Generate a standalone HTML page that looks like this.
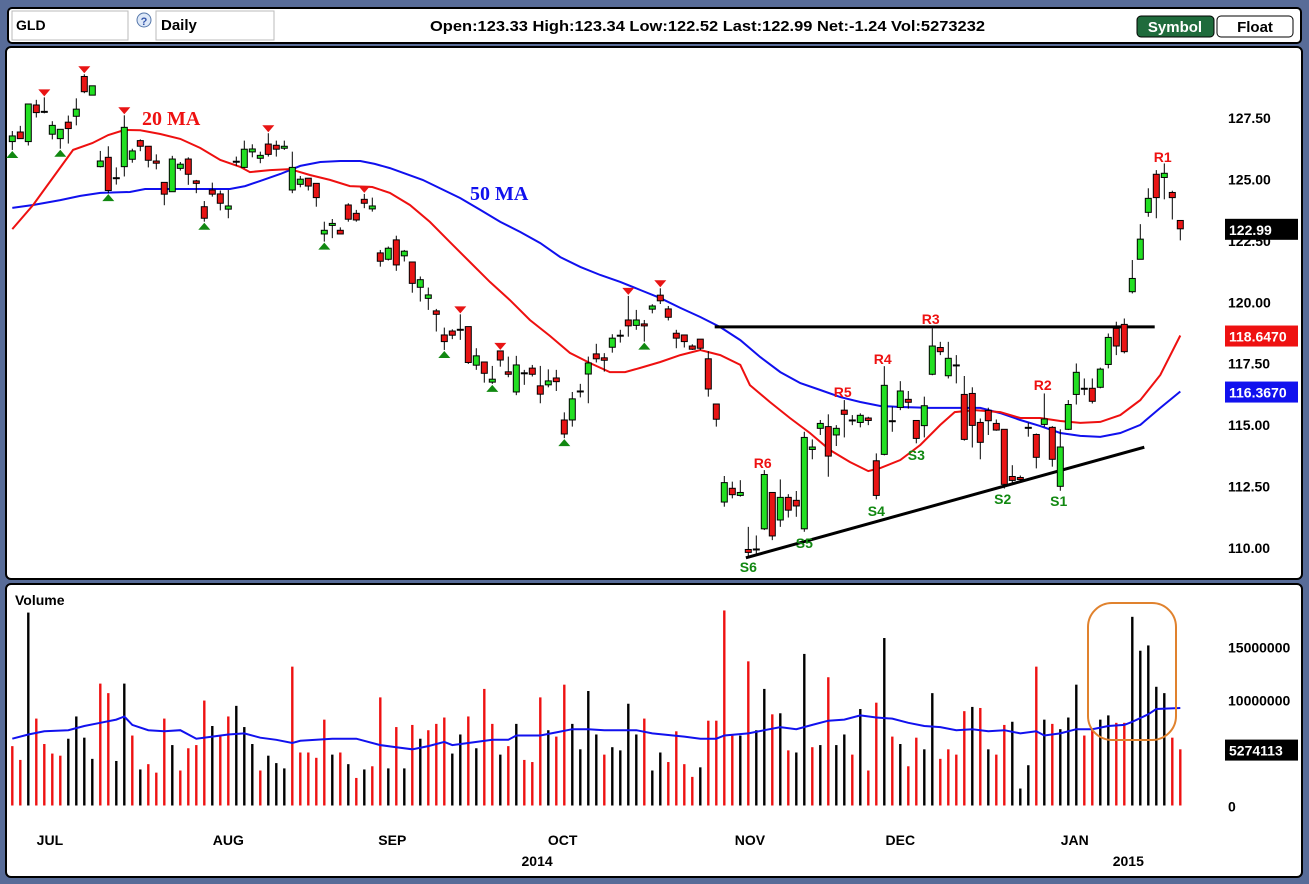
<!DOCTYPE html>
<html><head><meta charset="utf-8"><title>GLD Daily</title>
<style>
html,body{margin:0;padding:0;background:#586c98;}
svg{display:block;font-family:"Liberation Sans",sans-serif;}
</style></head>
<body>
<svg id="chart" width="1309" height="884" viewBox="0 0 1309 884" xmlns="http://www.w3.org/2000/svg">
<rect x="0" y="0" width="1309" height="884" fill="#586c98"/>
<g>
<rect x="8" y="8" width="1293" height="35" rx="4" fill="#fff" stroke="#000" stroke-width="2"/>
<rect x="12" y="11" width="116" height="29" fill="#fff" stroke="#bbb"/>
<text x="16" y="30" font-size="14" font-weight="bold">GLD</text>
<circle cx="144" cy="20" r="7" fill="#dde8f8" stroke="#5577aa"/>
<text x="144" y="25" font-size="11" font-weight="bold" fill="#3355aa" text-anchor="middle">?</text>
<rect x="156" y="11" width="118" height="29" fill="#fff" stroke="#bbb"/>
<text x="161" y="30" font-size="15" font-weight="bold">Daily</text>
<text x="430" y="31" font-size="15" font-weight="bold" textLength="555" lengthAdjust="spacingAndGlyphs">Open:123.33  High:123.34  Low:122.52  Last:122.99  Net:-1.24  Vol:5273232</text>
<rect x="1137" y="16" width="77" height="21" rx="4" fill="#1f6b3c" stroke="#000"/>
<text x="1175" y="32" font-size="15" font-weight="bold" fill="#fff" text-anchor="middle">Symbol</text>
<rect x="1217" y="16" width="76" height="21" rx="4" fill="#fff" stroke="#000"/>
<text x="1255" y="32" font-size="15" font-weight="bold" text-anchor="middle">Float</text>
</g>
<rect x="6" y="47" width="1296" height="532" rx="5" fill="#fff" stroke="#000" stroke-width="2"/>
<rect x="6" y="584" width="1296" height="293" rx="5" fill="#fff" stroke="#000" stroke-width="2"/>
<g id="price-layer"></g>
<g id="volume-layer"></g>
</svg>
<script>
const opens=[126.54,126.93,126.54,128.03,127.75,126.84,126.66,127.33,127.57,129.19,128.43,125.52,125.90,125.05,125.52,125.82,126.58,126.35,125.75,124.88,124.50,125.45,125.83,124.94,123.89,124.57,124.41,123.79,125.72,125.49,126.12,125.86,126.44,126.39,126.27,124.57,124.80,125.05,124.84,122.78,123.15,122.93,123.96,123.62,124.19,123.80,122.01,121.75,122.54,121.89,121.64,120.61,120.16,119.65,118.67,118.83,118.88,119.01,117.44,117.57,116.75,118.02,117.17,116.35,117.11,117.32,116.60,116.64,116.92,115.21,115.21,116.37,117.08,117.90,117.74,118.17,118.64,119.28,119.06,119.12,119.72,120.29,119.73,118.74,118.67,118.22,118.50,117.70,115.86,111.87,112.43,112.14,109.94,109.94,110.78,112.26,111.14,112.06,111.94,110.78,114.01,114.87,114.94,114.60,115.61,115.19,115.11,115.29,113.55,113.81,115.16,115.72,116.05,115.19,114.98,117.07,118.16,117.01,117.43,116.25,116.29,115.11,115.60,115.07,114.83,112.91,112.87,114.89,114.62,115.03,114.91,112.51,114.83,116.25,116.48,116.50,116.54,117.47,118.94,119.10,120.43,121.75,123.66,125.21,125.08,124.47,123.33];
const highs=[126.97,127.18,128.07,128.24,128.34,127.37,127.04,127.60,128.30,129.28,128.81,126.16,126.35,125.49,127.61,126.25,126.63,126.35,126.02,124.88,125.96,125.71,125.90,124.98,124.12,124.87,124.55,124.57,125.93,126.58,126.43,126.13,126.88,126.58,126.58,126.13,125.14,125.05,124.84,123.28,123.39,123.05,124.03,123.76,124.41,124.26,122.13,122.27,122.71,122.13,121.64,121.05,120.60,119.73,118.97,118.90,119.51,119.01,118.13,117.57,117.41,118.02,117.79,117.82,117.25,117.45,117.41,117.27,117.25,115.52,116.35,116.68,117.79,118.31,117.93,118.70,118.88,120.26,119.69,119.28,119.92,120.57,119.85,118.88,118.67,118.29,118.50,118.01,115.86,112.93,112.70,112.76,110.86,110.51,113.17,112.26,112.79,112.19,112.32,114.73,114.42,115.21,115.44,115.00,116.02,115.41,115.48,115.34,113.85,117.40,115.75,116.79,116.39,115.19,116.16,118.94,118.39,118.39,117.85,117.00,116.54,115.27,115.71,115.23,114.83,113.37,112.95,115.10,114.66,116.29,114.96,114.83,116.02,117.51,116.90,116.90,117.34,118.73,119.21,119.34,121.72,123.18,124.64,125.38,125.65,124.54,123.34];
const lows=[126.20,126.66,126.38,127.52,127.69,126.63,126.25,126.46,127.20,128.51,128.43,125.49,124.44,124.79,125.12,125.68,126.15,125.49,125.41,123.95,124.50,125.36,124.78,124.44,123.28,124.30,123.74,123.42,125.55,125.45,125.90,125.66,125.93,125.93,126.20,124.44,124.68,124.55,123.89,122.47,122.61,122.78,123.28,123.28,123.83,123.69,121.45,121.70,121.28,121.66,120.39,120.03,119.69,118.81,118.06,118.50,118.47,117.49,117.25,116.73,116.68,117.38,116.95,116.22,116.64,116.98,115.89,116.54,116.39,114.47,114.94,116.13,115.89,117.55,117.18,117.95,118.36,118.60,118.88,118.40,119.55,119.93,119.26,118.13,118.16,118.06,118.06,116.16,114.94,111.68,112.02,112.09,109.64,109.71,110.73,110.32,110.86,111.24,111.27,110.66,113.61,114.60,112.90,114.15,114.50,115.00,114.91,115.00,111.98,113.77,114.73,115.61,115.67,114.26,114.50,117.03,117.85,116.90,116.70,114.37,114.09,113.61,114.60,114.77,112.42,112.66,112.70,114.53,113.24,114.93,113.31,112.33,114.80,115.84,116.22,115.88,116.50,117.31,117.85,117.92,120.36,121.75,123.48,123.42,124.19,123.37,122.52];
const closes=[126.77,126.66,128.07,127.72,127.75,127.20,127.04,127.07,127.86,128.57,128.81,125.75,124.55,125.05,127.12,126.16,126.35,125.78,125.66,124.40,125.83,125.62,125.21,124.84,123.42,124.40,124.03,123.92,125.72,126.23,126.24,125.98,126.02,126.23,126.35,125.49,125.01,124.73,124.26,122.93,123.21,122.78,123.38,123.35,124.03,123.92,121.67,122.20,121.52,122.08,120.77,120.92,120.30,119.51,118.40,118.66,118.88,117.55,117.82,117.11,116.87,117.65,117.07,117.45,117.11,117.07,116.26,116.80,116.77,114.64,116.07,116.37,117.53,117.70,117.64,118.54,118.64,119.04,119.28,119.04,119.85,120.06,119.39,118.54,118.40,118.09,118.13,116.47,115.24,112.66,112.17,112.26,109.82,109.94,112.99,110.49,112.06,111.54,111.71,114.50,114.11,115.07,113.74,114.87,115.44,115.19,115.40,115.19,112.14,116.62,115.16,116.39,115.93,114.46,115.79,118.22,117.99,117.72,117.43,114.42,114.99,114.30,115.18,114.80,112.59,112.75,112.79,114.89,113.69,115.25,113.61,114.11,115.84,117.15,116.48,115.97,117.28,118.57,118.22,117.99,120.97,122.57,124.23,124.26,125.25,124.26,122.99];
const ma20Day=[0,2.6,5.5,7.6,10,12,14,16,18.5,21,23.5,26,28.5,29.7,32.2,34.7,37.2,39.7,42.2,45,47.2,49.7,52.2,54.7,57.2,59.7,62.2,64.7,67.2,69.7,72.2,74.7,76.6,78.5,81,83.5,86,88.5,91,92.2,94.7,97.2,99.7,102.2,104.7,107,108.5,111,113.5,116,117.8,120.3,123.5,126,128.5,131,133.5,136,138.5,141,143.5,146];
const ma20Val=[122.98,123.96,125.26,126.20,126.48,126.81,127.01,127.0,126.85,126.65,126.28,125.79,125.51,125.30,125.38,125.42,125.18,124.98,124.73,124.69,124.45,123.96,123.27,122.45,121.64,120.83,120.09,119.28,118.63,117.94,117.53,117.16,117.16,117.33,117.57,117.85,118.06,117.85,117.45,116.63,115.94,115.29,114.68,113.99,113.50,113.13,113.25,113.58,114.19,115.01,115.53,115.61,115.53,115.29,115.29,115.17,115.09,115.13,115.41,116.02,117.04,118.647];
const ma50Day=[0,2.6,6,8.5,11,14.7,16.6,27.2,29.1,31,33.5,36,38.5,41,43.5,45.3,47.2,51.3,56,58.5,61,63.5,66,68.5,71,73.5,76,78.5,81,83.5,86,88.5,91,93.5,96,98.5,101,103.5,106,108.5,111,114.7,121,123.5,126,128.5,131,133.5,136,138.5,141,143.5,146];
const ma50Val=[123.84,123.96,124.16,124.33,124.45,124.49,124.61,124.61,124.73,124.94,125.22,125.55,125.71,125.75,125.75,125.63,125.46,124.98,124.24,123.76,123.27,122.86,122.41,121.84,121.44,121.11,120.83,120.50,120.17,119.77,119.40,118.99,118.46,117.77,117.16,116.71,116.43,116.14,115.94,115.78,115.74,115.70,115.70,115.49,115.21,114.96,114.68,114.56,114.52,114.68,115.01,115.70,116.367];
const highMarkers=[4,9,14,32,44,56,61,77,81];
const lowMarkers=[0,6,12,24,39,54,60,69,79];
const priceTicks=[127.5,125,122.5,120,117.5,115,112.5,110];
const priceTickLabels=["127.50","125.00","122.50","120.00","117.50","115.00","112.50","110.00"];
const volumes=[5.6,4.3,18.2,8.2,5.8,4.9,4.7,6.3,8.4,6.4,4.4,11.5,10.6,4.2,11.5,6.6,3.4,3.9,3.1,8.2,5.7,3.3,5.4,5.7,9.9,7.5,6.6,8.4,9.4,7.4,5.8,3.3,4.7,4.0,3.5,13.1,5.0,5.0,4.5,8.1,4.8,5.0,3.9,2.6,3.4,3.7,10.2,3.5,7.4,3.5,7.6,6.3,7.1,7.7,8.3,4.9,6.7,8.4,5.4,11.0,7.7,4.8,5.6,7.7,4.3,4.1,10.2,7.1,6.5,11.4,7.7,5.3,10.8,6.7,4.8,5.5,5.2,9.6,6.7,8.2,3.3,5.0,4.1,7.0,3.9,2.7,3.6,8.0,8.0,18.4,6.6,6.6,13.6,7.1,11.0,8.6,8.7,5.2,5.0,14.3,5.5,5.7,12.1,5.7,6.7,4.8,9.1,3.3,9.7,15.8,6.5,5.8,3.7,6.4,5.3,10.6,4.4,5.3,4.8,8.9,9.3,9.2,5.3,4.8,7.6,7.9,1.6,3.8,13.1,8.1,7.7,7.2,8.3,11.4,6.6,7.1,8.1,8.5,7.8,7.8,17.8,14.6,15.1,11.2,10.6,6.4,5.3];
const volDown="rrkrrrrkkkkrrkkrkrrrkrrrrkrrkkkrkkkrrrrrkrkrkrrkrkrkrrrkkrkrrkrkrrrkrrkkkkrkkkkrkkrrrrkrrrrkrkkrkrkkrkrkkrkrrkrkrrkkrrrrkrkrrkkkrkrkkkrrkkrrkkkkkrr";
const volMaDay=[0,2,4,7,9,11,13,14,15,17,19,21,23,25,27,29,31,33,35,36,40,43,46,48,50,52,54,55,57,60,62,63,66,68,70,72,74,78,80,84,86,88,89,92,94,96,98,100,102,104,106,108,110,112,114,116,118,120,122,124,126,128,129,131,133,135,137,139,140,142,143,146];
const volMaVal=[6.3,6.7,7.0,7.1,7.5,7.8,8.1,8.4,7.6,7.1,7.0,7.1,6.3,6.5,6.7,6.8,6.4,6.2,5.9,6.1,6.3,6.3,5.7,5.5,5.3,5.6,6.0,5.7,5.9,6.2,6.2,6.6,6.6,6.9,7.2,7.2,7.1,7.1,6.8,6.5,6.3,6.3,6.6,6.8,7.1,7.4,7.2,7.6,8.0,8.1,8.5,8.3,8.2,7.8,7.5,7.4,7.1,7.2,7.0,7.1,6.8,7.0,6.6,6.8,7.2,7.2,7.5,7.6,7.9,8.6,9.1,9.2];
const volTicks=[15,10,0];
const volTickLabels=["15000000","10000000","0"];
const monthLabels=["JUL","AUG","SEP","OCT","NOV","DEC","JAN"];
const monthDay=[4.7,27,47.5,68.8,92.2,111,132.8];
const yearLabels=["2014","2015"];
const yearDay=[65.6,139.5];
const annoText=["R6","S6","S5","R5","R4","S4","S3","R3","S2","R2","S1","R1"];
const annoDay=[93.8,92,99,103.8,108.8,108,113,114.8,123.8,128.8,130.8,143.8];
const annoPrice=[113.46,109.23,110.20,116.35,117.69,111.5,113.78,119.32,111.99,116.63,111.91,125.91];
const resistancePrice=119.0, resistanceStart=87.8, resistanceEnd=142.8;
const trendStart=[91.7,109.6], trendEnd=[141.5,114.1];
const lastPrice=122.99, ma20Last=118.647, ma50Last=116.367, lastVolume=5.274113;

const NS="http://www.w3.org/2000/svg";
const X0=12.3, STEP=8;
function xOf(i){return X0+i*STEP;}
function yP(p){return 118+(127.5-p)*24.571;}
function yV(v){return 805.5-v*10.6;}
function mk(tag,attrs,parent){const e=document.createElementNS(NS,tag);for(const k in attrs)e.setAttribute(k,attrs[k]);parent.appendChild(e);return e;}
const P=document.getElementById('price-layer');
const V=document.getElementById('volume-layer');

function line(days,vals,color,name){
  const pts=days.map((d,k)=>xOf(d).toFixed(1)+','+yP(vals[k]).toFixed(1)).join(' ');
  const pl=mk('polyline',{points:pts,fill:'none',stroke:color,'stroke-width':2},P);
  
  
}
line(ma50Day,ma50Val,'#1010ee','ma50-line');
line(ma20Day,ma20Val,'#ee1010','ma20-line');

const rl=mk('line',{x1:xOf(resistanceStart),x2:xOf(resistanceEnd),y1:yP(resistancePrice),y2:yP(resistancePrice),stroke:'#000','stroke-width':3},P);


const tl=mk('line',{x1:xOf(trendStart[0]),y1:yP(trendStart[1]),x2:xOf(trendEnd[0]),y2:yP(trendEnd[1]),stroke:'#000','stroke-width':3},P);



for(let i=0;i<opens.length;i++){
  const x=xOf(i),o=opens[i],c=closes[i];
  const g=mk('g',{},P);
  
  
  mk('line',{x1:x,x2:x,y1:yP(highs[i]),y2:yP(lows[i]),stroke:'#000','stroke-width':1},g);
  const top=yP(Math.max(o,c)),bot=yP(Math.min(o,c));
  if(Math.abs(o-c)<0.02){
    mk('line',{x1:x-3.5,x2:x+3.5,y1:top,y2:top,stroke:'#000','stroke-width':2},g);
  } else {
    mk('rect',{x:x-3,y:top,width:6,height:Math.max(bot-top,2),fill:c>o?'#22e022':'#e81414',stroke:'#000','stroke-width':1},g);
  }
}
highMarkers.forEach(i=>{
  const x=xOf(i),y=yP(highs[i])-1;
  const t=mk('polygon',{points:`${x-6},${y-7} ${x+6},${y-7} ${x},${y}`,fill:'#e81414'},P);
  
  
});
lowMarkers.forEach(i=>{
  const x=xOf(i),y=yP(lows[i])+1;
  const t=mk('polygon',{points:`${x-6},${y+7} ${x+6},${y+7} ${x},${y}`,fill:'#118811'},P);
  
  
});
annoText.forEach((s,k)=>{
  const t=mk('text',{x:xOf(annoDay[k]),y:yP(annoPrice[k])+5,'font-size':14,'font-weight':'bold','text-anchor':'middle',fill:s[0]==='R'?'#ee1111':'#118811'},P);
  t.textContent=s;
  
  
});
const t20=mk('text',{x:142,y:125,'font-size':20,'font-weight':'bold','font-family':'Liberation Serif, serif',fill:'#ee1111'},P);
t20.textContent='20 MA';


const t50=mk('text',{x:470,y:200,'font-size':20,'font-weight':'bold','font-family':'Liberation Serif, serif',fill:'#1111ee'},P);
t50.textContent='50 MA';



priceTicks.forEach((p,k)=>{
  const t=mk('text',{x:1228,y:yP(p)+5,'font-size':14,'font-weight':'bold'},P);
  t.textContent=priceTickLabels[k];
  
  
});
function tag(val,txt,bg,name,yf,layer){
  const y=yf(val);
  const r=mk('rect',{x:1225,y:y-10,width:73,height:21,fill:bg},layer);
  
  
  const t=mk('text',{x:1229,y:y+6,'font-size':14,'font-weight':'bold',fill:'#fff'},layer);
  t.textContent=txt;
  
  
}
tag(lastPrice,lastPrice.toFixed(2),'#000','last-price-tag',yP,P);
tag(ma20Last,ma20Last.toFixed(4),'#ee1111','ma20-value-tag',yP,P);
tag(ma50Last,ma50Last.toFixed(4),'#1111ee','ma50-value-tag',yP,P);

const vt=mk('text',{x:15,y:605,'font-size':14,'font-weight':'bold'},V);
vt.textContent='Volume';


volumes.forEach((v,i)=>{
  const r=mk('rect',{x:xOf(i)-1.2,y:yV(v),width:2.4,height:yV(0)-yV(v),fill:volDown[i]==='r'?'#ee1111':'#000'},V);
  
  
});
const vpts=volMaDay.map((d,k)=>xOf(d).toFixed(1)+','+yV(volMaVal[k]).toFixed(1)).join(' ');
const vm=mk('polyline',{points:vpts,fill:'none',stroke:'#1111ee','stroke-width':2},V);


volTicks.forEach((v,k)=>{
  const t=mk('text',{x:1228,y:yV(v)+6,'font-size':14,'font-weight':'bold'},V);
  t.textContent=volTickLabels[k];
  
  
});
tag(lastVolume,String(Math.round(lastVolume*1e6)),'#000','last-volume-tag',yV,V);
const hl=mk('rect',{x:1088,y:603,width:88,height:137,rx:24,fill:'none',stroke:'#e0822e','stroke-width':2},V);



monthLabels.forEach((m,k)=>{
  const t=mk('text',{x:xOf(monthDay[k]),y:845,'font-size':14,'font-weight':'bold','text-anchor':'middle'},V);
  t.textContent=m;
  
  
});
yearLabels.forEach((m,k)=>{
  const t=mk('text',{x:xOf(yearDay[k]),y:866,'font-size':14,'font-weight':'bold','text-anchor':'middle'},V);
  t.textContent=m;
  
  
});
</script>
</body></html>
